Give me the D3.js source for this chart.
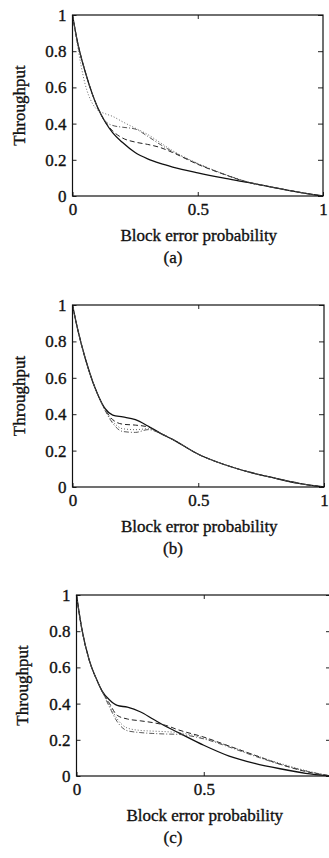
<!DOCTYPE html>
<html>
<head>
<meta charset="utf-8">
<script src="https://cdn.jsdelivr.net/npm/d3@7"></script>
<style>
    html, body { margin: 0; padding: 0; background: #fff; }
    svg { display: block; }
    text { font-family: "Liberation Serif", "Times New Roman", serif; fill: #111; stroke: #111; stroke-width: 0.35px; }
</style>
</head>
<body>
<div id="chart"></div>
<script>
// block error probability grid shared by all panels
const pe = [0, 0.02, 0.05, 0.08, 0.1, 0.13, 0.16, 0.2, 0.25, 0.3, 0.35, 0.4, 0.5, 0.6, 0.7, 0.8, 0.9, 1];

// panel (a)
const aSolid   = [1, 0.85, 0.69, 0.56, 0.49, 0.41, 0.35, 0.295, 0.24, 0.205, 0.18, 0.16, 0.128, 0.1, 0.075, 0.048, 0.022, 0];
const aDashed  = [1, 0.85, 0.69, 0.56, 0.49, 0.41, 0.36, 0.32, 0.298, 0.285, 0.268, 0.24, 0.175, 0.122, 0.076, 0.048, 0.022, 0];
const aDashDot = [1, 0.85, 0.69, 0.56, 0.49, 0.415, 0.39, 0.38, 0.37, 0.33, 0.285, 0.245, 0.178, 0.123, 0.077, 0.048, 0.022, 0];
const aDotted  = [1, 0.83, 0.62, 0.51, 0.475, 0.455, 0.44, 0.41, 0.375, 0.34, 0.295, 0.25, 0.18, 0.124, 0.078, 0.049, 0.022, 0];

// panel (b)
const bSolid   = [1, 0.87, 0.71, 0.58, 0.51, 0.43, 0.395, 0.385, 0.37, 0.335, 0.295, 0.26, 0.18, 0.125, 0.083, 0.05, 0.02, 0];
const bDashed  = [1, 0.87, 0.71, 0.58, 0.51, 0.425, 0.37, 0.345, 0.34, 0.33, 0.295, 0.26, 0.18, 0.125, 0.083, 0.05, 0.02, 0];
const bDashDot = [1, 0.87, 0.71, 0.58, 0.51, 0.42, 0.35, 0.305, 0.3, 0.315, 0.295, 0.26, 0.18, 0.125, 0.083, 0.05, 0.02, 0];
const bDotted  = [1, 0.87, 0.71, 0.58, 0.51, 0.42, 0.36, 0.32, 0.315, 0.32, 0.295, 0.26, 0.18, 0.125, 0.083, 0.05, 0.02, 0];

// panel (c)
const cSolid   = [1, 0.82, 0.64, 0.53, 0.47, 0.42, 0.39, 0.38, 0.355, 0.315, 0.275, 0.24, 0.17, 0.11, 0.07, 0.04, 0.015, 0];
const cDashed  = [1, 0.82, 0.64, 0.53, 0.47, 0.4, 0.335, 0.315, 0.305, 0.295, 0.28, 0.255, 0.215, 0.165, 0.115, 0.065, 0.025, 0];
const cDashDot = [1, 0.82, 0.64, 0.53, 0.47, 0.38, 0.3, 0.25, 0.24, 0.235, 0.232, 0.23, 0.205, 0.16, 0.11, 0.065, 0.028, 0];
const cDotted  = [1, 0.82, 0.64, 0.53, 0.47, 0.39, 0.315, 0.265, 0.252, 0.248, 0.245, 0.24, 0.21, 0.165, 0.115, 0.07, 0.03, 0];

const xTicks = [0, 0.5, 1];
const xTickLabels = ["0", "0.5", "1"];
const yTicks = [0, 0.2, 0.4, 0.6, 0.8, 1];
const yTickLabels = ["0", "0.2", "0.4", "0.6", "0.8", "1"];
const panelLabels = ["(a)", "(b)", "(c)"];
const xTitle = "Block error probability";
const yTitle = "Throughput";

const width = 329, height = 858;

// line styles for the four schemes
const styles = [
    { dash: null,      color: "#111", w: 1.3 },
    { dash: "5,3",     color: "#222", w: 1.0 },
    { dash: "5,2,1,2", color: "#444", w: 0.9 },
    { dash: "1,2",     color: "#555", w: 0.9 }
];

// panel (c) is cut at the right edge, its "1" label falls outside
const panels = [
    { left: 72.5, right: 323, top: 15,  bottom: 196, yAxisX: 19, xLabels: xTicks, series: [aSolid, aDashed, aDashDot, aDotted] },
    { left: 72.5, right: 324, top: 305, bottom: 487, yAxisX: 19, xLabels: xTicks, series: [bSolid, bDashed, bDashDot, bDotted] },
    { left: 76.5, right: 331, top: 595, bottom: 776, yAxisX: 22, xLabels: xTicks.slice(0, 2), series: [cSolid, cDashed, cDashDot, cDotted] }
];

const svg = d3.select("#chart")
    .append("svg")
    .attr("width", width)
    .attr("height", height);

panels.forEach((p, i) => {
    const x = d3.scaleLinear().domain([0, 1]).range([p.left, p.right]);
    const y = d3.scaleLinear().domain([0, 1]).range([p.bottom, p.top]);
    const g = svg.append("g");

    // curves
    const line = d3.line()
        .x(d => x(d[0]))
        .y(d => y(d[1]))
        .curve(d3.curveMonotoneX);

    p.series.forEach((vals, k) => {
        const st = styles[k];
        g.append("path")
            .datum(pe.map((v, j) => [v, vals[j]]))
            .attr("fill", "none")
            .attr("stroke", st.color)
            .attr("stroke-width", st.w)
            .attr("stroke-dasharray", st.dash)
            .attr("d", line);
    });

    // axes with inward ticks
    const fmtX = d => xTickLabels[xTicks.indexOf(d)];
    const fmtY = d => yTickLabels[yTicks.indexOf(d)];

    const bottomAxis = g.append("g")
        .attr("transform", `translate(0,${p.bottom})`)
        .call(d3.axisBottom(x).tickValues(p.xLabels).tickFormat(fmtX).tickSizeInner(-4).tickSizeOuter(0).tickPadding(7));
    const leftAxis = g.append("g")
        .attr("transform", `translate(${p.left},0)`)
        .call(d3.axisLeft(y).tickValues(yTicks).tickFormat(fmtY).tickSizeInner(-4).tickSizeOuter(0).tickPadding(6));
    const topAxis = g.append("g")
        .attr("transform", `translate(0,${p.top})`)
        .call(d3.axisTop(x).tickValues([0.5]).tickFormat("").tickSizeInner(-4).tickSizeOuter(0));
    const rightAxis = g.append("g")
        .attr("transform", `translate(${p.right},0)`)
        .call(d3.axisRight(y).tickValues(yTicks).tickFormat("").tickSizeInner(-5).tickSizeOuter(0));

    [bottomAxis, leftAxis, topAxis, rightAxis].forEach(a => {
        a.select(".domain").remove();
        a.selectAll("line").attr("stroke", "#222").attr("stroke-width", 1);
        a.selectAll("text")
            .attr("font-size", 17)
            .style("font-family", "'Liberation Serif', serif")
            .attr("fill", "#111");
    });

    // frame
    g.append("rect")
        .attr("x", p.left)
        .attr("y", p.top)
        .attr("width", p.right - p.left)
        .attr("height", p.bottom - p.top)
        .attr("fill", "none")
        .attr("stroke", "#111")
        .attr("stroke-width", 1.2);

    // titles
    g.append("text")
        .attr("x", (p.left + x(1)) / 2 + 1)
        .attr("y", p.bottom + 45)
        .attr("text-anchor", "middle")
        .attr("font-size", 17)
        .text(xTitle);

    g.append("text")
        .attr("transform", `translate(${p.yAxisX + 6},${(p.top + p.bottom) / 2}) rotate(-90)`)
        .attr("text-anchor", "middle")
        .attr("font-size", 17)
        .text(yTitle);

    g.append("text")
        .attr("x", 173)
        .attr("y", p.bottom + 67)
        .attr("text-anchor", "middle")
        .attr("font-size", 17)
        .text(panelLabels[i]);
});
</script>
</body>
</html>
